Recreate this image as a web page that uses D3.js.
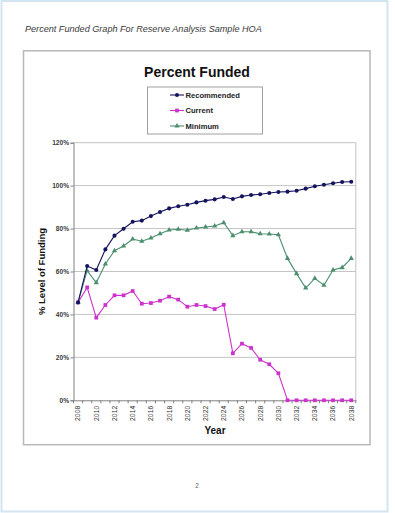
<!DOCTYPE html>
<html>
<head>
<meta charset="utf-8">
<script src="https://cdn.jsdelivr.net/npm/d3@7"></script>
<style>
  body { margin: 0; background: #fff; }
  svg { display: block; font-family: "Liberation Sans", Arial, sans-serif; }
</style>
</head>
<body>
<div id="chart"></div>
<script>
// years on the category axis
const years = d3.range(2008, 2039);

// percent funded per year
const recommended = [45.6, 62.6, 60.7, 70.3, 76.7, 79.9, 83.2, 83.7, 85.8, 87.7, 89.4,
  90.4, 91.1, 92.2, 93.0, 93.6, 94.7, 93.8, 95.0, 95.6, 96.0, 96.6, 97.0, 97.2,
  97.6, 98.6, 99.7, 100.4, 101.1, 101.7, 101.8];
const current = [45.6, 52.6, 38.5, 44.4, 48.9, 48.9, 50.9, 45.0, 45.3, 46.4, 48.3,
  46.9, 43.6, 44.4, 43.9, 42.5, 44.5, 21.9, 26.4, 24.4, 18.9, 16.8, 12.6, 0,
  0, 0, 0, 0, 0, 0, 0];
const minimum = [45.6, 60.4, 54.8, 63.5, 69.7, 71.9, 75.1, 74.1, 75.6, 77.6, 79.3,
  79.7, 79.2, 80.3, 80.7, 81.2, 82.7, 76.7, 78.5, 78.5, 77.6, 77.5, 77.1, 66.1,
  59.0, 52.3, 56.8, 53.6, 60.7, 61.8, 66.1];

const yTicks = [0, 20, 40, 60, 80, 100, 120];
const seriesNames = ["Recommended", "Current", "Minimum"];

const W = 395, H = 513;
// plot area inside the chart frame
const plot = { left: 73.5, right: 355.8, top: 142.7, bottom: 400.3 };

const svg = d3.select("#chart")
  .append("svg")
    .attr("width", W)
    .attr("height", H);

// scanned page edge
svg.append("rect")
  .attr("x", 1.5).attr("y", 1)
  .attr("width", 386).attr("height", 510.5)
  .attr("fill", "#fff")
  .attr("stroke", "#d3e5f1")
  .attr("stroke-width", 2);

// page header
svg.append("text")
  .attr("x", 25).attr("y", 32)
  .attr("font-size", "9.1px")
  .attr("font-style", "italic")
  .attr("fill", "#3a3a3a")
  .text("Percent Funded Graph For Reserve Analysis Sample HOA");

// chart frame
svg.append("rect")
  .attr("x", 23.5).attr("y", 50.8)
  .attr("width", 346.5).attr("height", 393.9)
  .attr("fill", "#fff")
  .attr("stroke", "#b8b8b8")
  .attr("stroke-width", 1.5);

svg.append("text")
  .attr("x", 197).attr("y", 76.5)
  .attr("text-anchor", "middle")
  .attr("font-size", "14px")
  .attr("font-weight", "bold")
  .attr("fill", "#111")
  .text("Percent Funded");

// scales
const x = d3.scaleBand()
  .domain(years)
  .range([plot.left, plot.right])
  .padding(0);
const cx = d => x(d) + x.bandwidth() / 2;

const y = d3.scaleLinear()
  .domain([0, 120])
  .range([plot.bottom, plot.top]);

const color = d3.scaleOrdinal()
  .domain(seriesNames)
  .range(["#14145e", "#cc33cc", "#4b8f6e"]);

// gridlines + plot border
const g = svg.append("g");
g.selectAll(".grid")
  .data(yTicks.filter(t => t > 0))
  .enter().append("line")
    .attr("x1", plot.left).attr("x2", plot.right)
    .attr("y1", d => y(d)).attr("y2", d => y(d))
    .attr("stroke", "#c4c4c4")
    .attr("stroke-width", 1);
g.append("line")
  .attr("x1", plot.right).attr("x2", plot.right)
  .attr("y1", plot.top).attr("y2", plot.bottom)
  .attr("stroke", "#c4c4c4");

// Y axis
const yAxis = svg.append("g")
  .attr("transform", "translate(" + plot.left + ",0)")
  .call(d3.axisLeft(y).tickValues(yTicks).tickFormat(d => d + "%").tickSize(3).tickPadding(1.5));
yAxis.select(".domain").attr("stroke", "#808080");
yAxis.selectAll("line").attr("stroke", "#808080");
yAxis.selectAll("text")
  .attr("font-size", "6.6px")
  .attr("font-weight", "bold")
  .attr("fill", "#3a3a3a")
  .attr("font-family", "Liberation Sans, Arial, sans-serif");

// X axis, labels turned up the way Excel prints them
const xAxis = svg.append("g")
  .attr("transform", "translate(0," + plot.bottom + ")")
  .call(d3.axisBottom(x).tickValues(years.filter(d => d % 2 === 0)).tickSize(0));
xAxis.select(".domain").attr("stroke", "#808080");
xAxis.selectAll("text")
  .attr("transform", "rotate(-90)")
  .attr("text-anchor", "end")
  .attr("x", -5.5)
  .attr("y", 0)
  .attr("dy", "0.35em")
  .attr("font-size", "6.8px")
  .attr("fill", "#333")
  .attr("font-family", "Liberation Sans, Arial, sans-serif");
// ticks sit between categories
xAxis.selectAll(".btick")
  .data(years.concat([null]))
  .enter().append("line")
    .attr("x1", (d, i) => plot.left + i * x.bandwidth())
    .attr("x2", (d, i) => plot.left + i * x.bandwidth())
    .attr("y1", 0).attr("y2", 3)
    .attr("stroke", "#808080");

// axis titles
svg.append("text")
  .attr("transform", "translate(44.5," + ((plot.top + plot.bottom) / 2) + ") rotate(-90)")
  .attr("text-anchor", "middle")
  .attr("font-size", "9.5px")
  .attr("font-weight", "bold")
  .attr("fill", "#111")
  .text("% Level of Funding");

svg.append("text")
  .attr("x", 215).attr("y", 434)
  .attr("text-anchor", "middle")
  .attr("font-size", "10px")
  .attr("font-weight", "bold")
  .attr("fill", "#111")
  .text("Year");

// series
const series = [
  { name: "Recommended", values: recommended, shape: d3.symbolCircle, size: 13 },
  { name: "Current", values: current, shape: d3.symbolSquare, size: 14 },
  { name: "Minimum", values: minimum, shape: d3.symbolTriangle, size: 12 }
];

const line = d3.line()
  .x((d, i) => cx(years[i]))
  .y(d => y(d));

// draw Minimum first so Recommended stays on top like the original
[series[2], series[1], series[0]].forEach(s => {
  svg.append("path")
    .datum(s.values)
    .attr("fill", "none")
    .attr("stroke", color(s.name))
    .attr("stroke-width", 1.1)
    .attr("d", line);

  svg.selectAll(".m-" + s.name)
    .data(s.values)
    .enter().append("path")
      .attr("transform", (d, i) => "translate(" + cx(years[i]) + "," + y(d) + ")")
      .attr("d", d3.symbol().type(s.shape).size(s.size))
      .attr("fill", color(s.name));
});

// legend
const legend = svg.append("g");
legend.append("rect")
  .attr("x", 147.5).attr("y", 87)
  .attr("width", 115).attr("height", 47)
  .attr("fill", "#fff")
  .attr("stroke", "#a0a0a0");

const legendItem = legend.selectAll(".item")
  .data(series)
  .enter().append("g")
    .attr("transform", (d, i) => "translate(0," + (95 + i * 15.5) + ")");
legendItem.append("line")
  .attr("x1", 170).attr("x2", 184)
  .attr("stroke", d => color(d.name))
  .attr("stroke-width", 1.1);
legendItem.append("path")
  .attr("transform", "translate(177,0)")
  .attr("d", d => d3.symbol().type(d.shape).size(d.size)())
  .attr("fill", d => color(d.name));
legendItem.append("text")
  .attr("x", 185.5)
  .attr("dy", "0.35em")
  .attr("font-size", "7.6px")
  .attr("font-weight", "bold")
  .attr("fill", "#222")
  .text(d => d.name);

// page number
svg.append("text")
  .attr("x", 197).attr("y", 488)
  .attr("text-anchor", "middle")
  .attr("font-size", "6.5px")
  .attr("fill", "#666")
  .text("2");
</script>
</body>
</html>
